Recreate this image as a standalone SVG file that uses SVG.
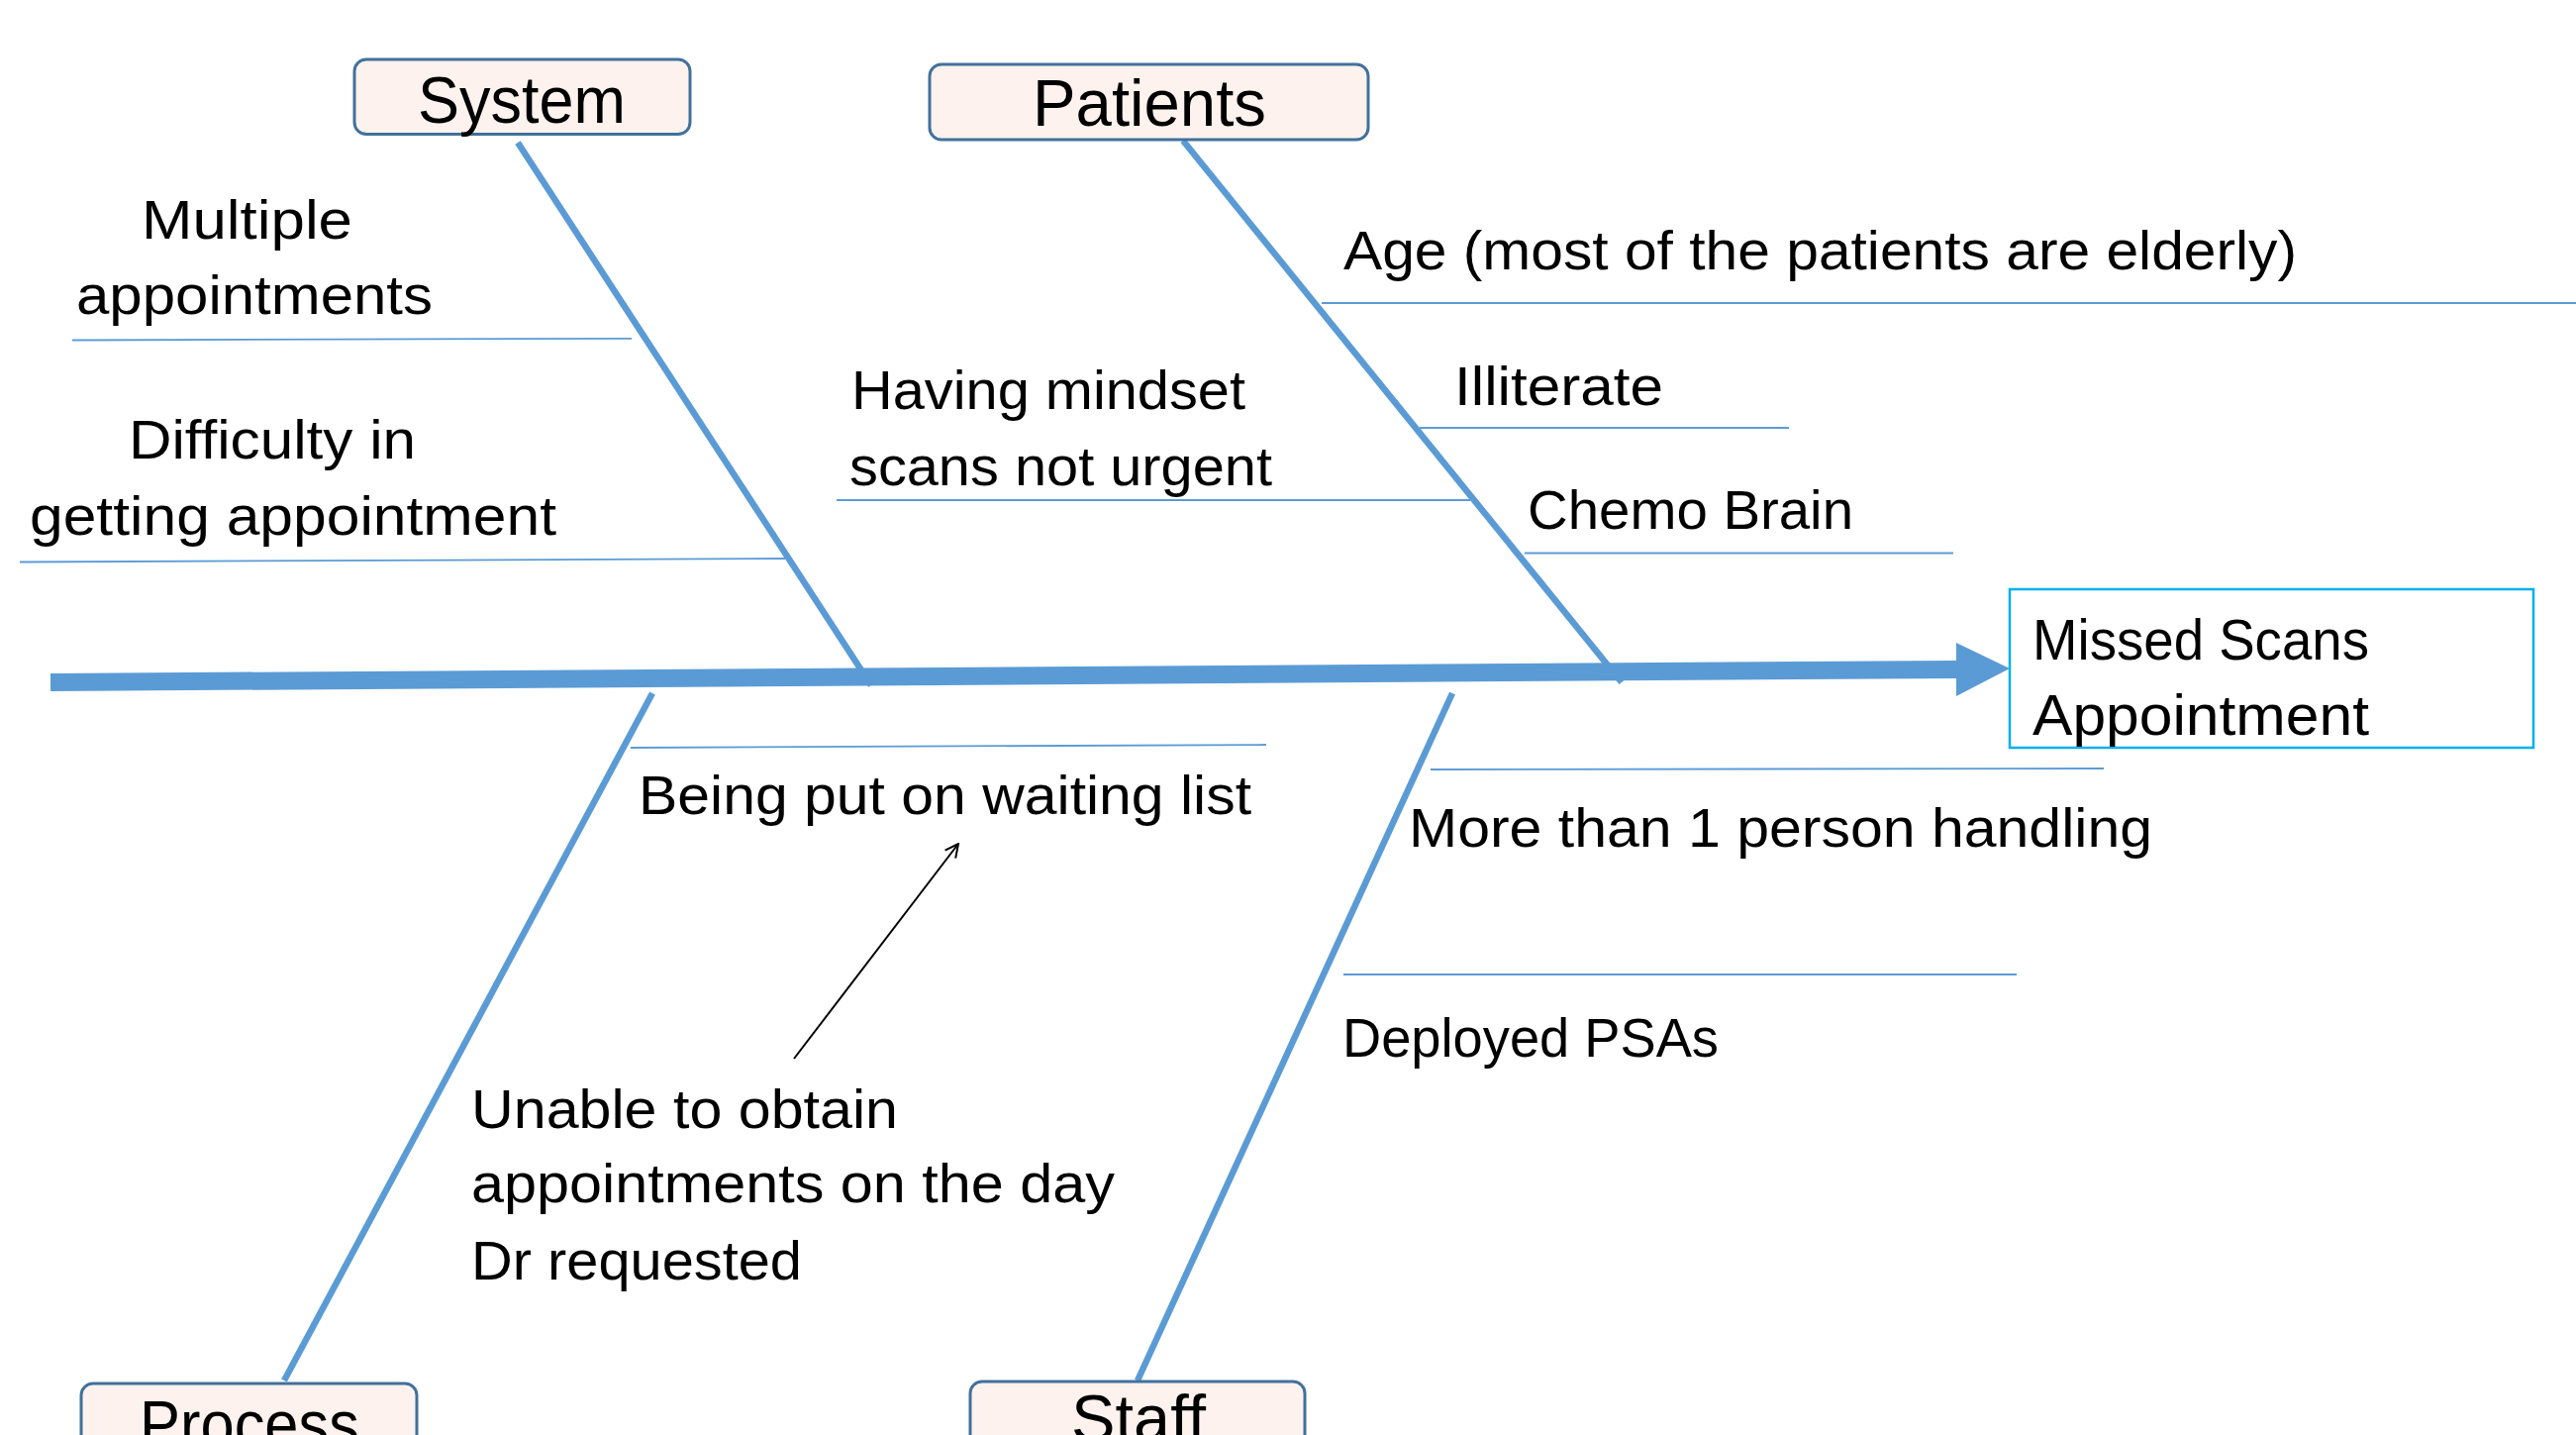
<svg xmlns="http://www.w3.org/2000/svg" width="2602" height="1449" viewBox="0 0 2602 1449">
  <style>
    .t { font-family: "Liberation Sans", Arial, sans-serif; font-size: 56px; fill: #000000; }
    .cat { font-family: "Liberation Sans", Arial, sans-serif; font-size: 66px; fill: #000000; }
    .eff { font-family: "Liberation Sans", Arial, sans-serif; font-size: 57px; fill: #000000; }
    .box { fill: #FDF2ED; stroke: #41719C; stroke-width: 3; }
    .ebox { fill: #FFFFFF; stroke: #00B0F0; stroke-width: 2.5; }
    .bone { stroke: #5B9BD5; stroke-width: 6.5; fill: none; }
    .sub { stroke: #5B9BD5; stroke-width: 1.8; fill: none; }
    .spine { fill: #5B9BD5; }
    .note { stroke: #000000; stroke-width: 2; fill: none; }
  </style>
  <defs>
    <marker id="open" viewBox="0 0 12 12" refX="11" refY="6" markerWidth="16" markerHeight="16" markerUnits="userSpaceOnUse" orient="auto">
      <path d="M1,1 L11,6 L1,11" fill="none" stroke="#000000" stroke-width="1.5"/>
    </marker>
  </defs>
  <rect width="2602" height="1449" fill="#FFFFFF"/>

  <g id="connectors">
    <line class="bone" x1="523" y1="144" x2="880" y2="692"/>
    <line class="bone" x1="1195" y1="142" x2="1638" y2="689"/>
    <line class="bone" x1="659" y1="700" x2="287" y2="1394"/>
    <line class="bone" x1="1467" y1="700" x2="1149" y2="1394"/>
    <polygon class="spine" points="51,680 1976,667 1976,649 2030,675 1976,703 1976,685 51,698"/>
    <line class="note" x1="802" y1="1069" x2="968" y2="852" marker-end="url(#open)"/>
  </g>

  <g id="system">
    <rect class="box" x="358" y="60" width="339" height="75.5" rx="12"/>
    <text class="cat" x="422" y="123.5" textLength="210" lengthAdjust="spacingAndGlyphs">System</text>
  </g>
  <g id="patients">
    <rect class="box" x="939" y="65" width="443" height="76" rx="12"/>
    <text class="cat" x="1043" y="127" textLength="236" lengthAdjust="spacingAndGlyphs">Patients</text>
  </g>
  <g id="process">
    <rect class="box" x="82" y="1397" width="339" height="76" rx="12"/>
    <text class="cat" x="141" y="1461" textLength="222" lengthAdjust="spacingAndGlyphs">Process</text>
  </g>
  <g id="staff">
    <rect class="box" x="980" y="1395" width="338" height="76" rx="12"/>
    <text class="cat" x="1082" y="1455" textLength="136" lengthAdjust="spacingAndGlyphs">Staff</text>
  </g>

  <g id="effect">
    <rect class="ebox" x="2030" y="595" width="529" height="160"/>
    <text class="eff" x="2053" y="665.5" textLength="340" lengthAdjust="spacingAndGlyphs">Missed Scans</text>
    <text class="eff" x="2053" y="741.5" textLength="340" lengthAdjust="spacingAndGlyphs">Appointment</text>
  </g>

  <g id="cause-multiple">
    <line class="sub" x1="73" y1="343.5" x2="638" y2="341.8"/>
    <text class="t" x="143" y="241" textLength="213" lengthAdjust="spacingAndGlyphs">Multiple</text>
    <text class="t" x="77" y="317" textLength="360" lengthAdjust="spacingAndGlyphs">appointments</text>
  </g>
  <g id="cause-difficulty">
    <line class="sub" x1="20" y1="567.5" x2="793" y2="564"/>
    <text class="t" x="130" y="463" textLength="290" lengthAdjust="spacingAndGlyphs">Difficulty in</text>
    <text class="t" x="30" y="540" textLength="532" lengthAdjust="spacingAndGlyphs">getting appointment</text>
  </g>
  <g id="cause-mindset">
    <line class="sub" x1="845" y1="505" x2="1485" y2="505"/>
    <text class="t" x="860" y="413" textLength="398" lengthAdjust="spacingAndGlyphs">Having mindset</text>
    <text class="t" x="858" y="490" textLength="427" lengthAdjust="spacingAndGlyphs">scans not urgent</text>
  </g>
  <g id="cause-age">
    <line class="sub" x1="1335" y1="306" x2="2602" y2="306"/>
    <text class="t" x="1357" y="272" textLength="963" lengthAdjust="spacingAndGlyphs">Age (most of the patients are elderly)</text>
  </g>
  <g id="cause-illiterate">
    <line class="sub" x1="1434" y1="432" x2="1807" y2="432"/>
    <text class="t" x="1469" y="409" textLength="211" lengthAdjust="spacingAndGlyphs">Illiterate</text>
  </g>
  <g id="cause-chemo">
    <line class="sub" x1="1540" y1="558.5" x2="1973" y2="558.5"/>
    <text class="t" x="1543" y="534" textLength="329" lengthAdjust="spacingAndGlyphs">Chemo Brain</text>
  </g>
  <g id="cause-waiting">
    <line class="sub" x1="637" y1="755" x2="1279" y2="752"/>
    <text class="t" x="645" y="822" textLength="619" lengthAdjust="spacingAndGlyphs">Being put on waiting list</text>
  </g>
  <g id="cause-unable">
    <text class="t" x="476" y="1139" textLength="431" lengthAdjust="spacingAndGlyphs">Unable to obtain</text>
    <text class="t" x="476" y="1214" textLength="650" lengthAdjust="spacingAndGlyphs">appointments on the day</text>
    <text class="t" x="476" y="1291.5" textLength="334" lengthAdjust="spacingAndGlyphs">Dr requested</text>
  </g>
  <g id="cause-handling">
    <line class="sub" x1="1445" y1="777" x2="2125" y2="776"/>
    <text class="t" x="1423" y="855" textLength="751" lengthAdjust="spacingAndGlyphs">More than 1 person handling</text>
  </g>
  <g id="cause-psas">
    <line class="sub" x1="1357" y1="984" x2="2037" y2="984"/>
    <text class="t" x="1356" y="1067" textLength="380" lengthAdjust="spacingAndGlyphs">Deployed PSAs</text>
  </g>
</svg>
